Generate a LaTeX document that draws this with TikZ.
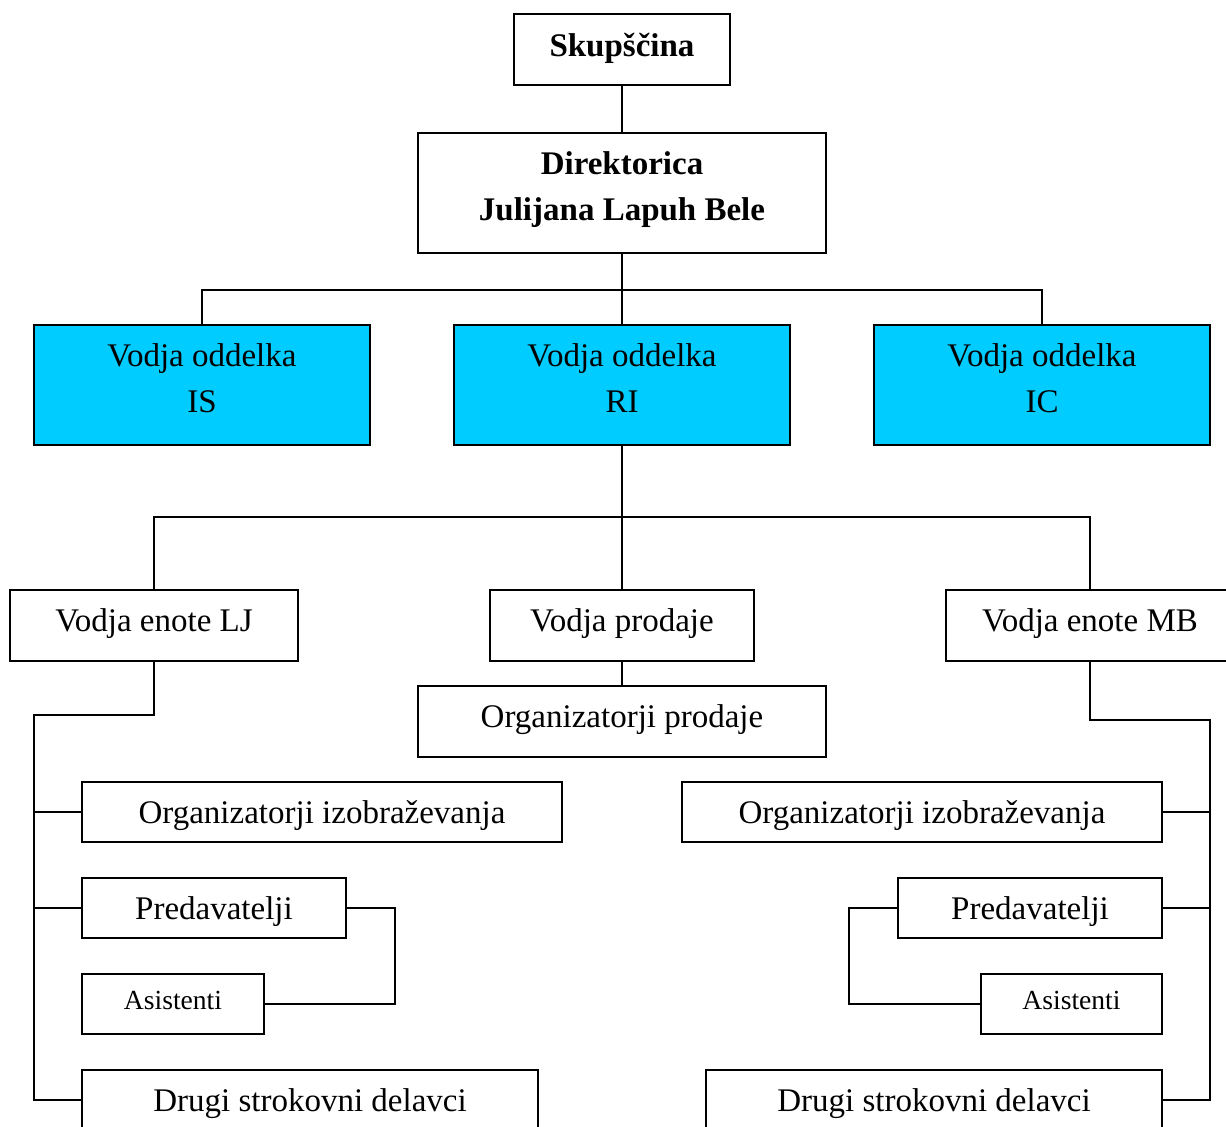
\documentclass[tikz,border=0pt]{standalone}
\usepackage{fontspec}
\setmainfont{Liberation Serif}
\definecolor{cyanbox}{HTML}{00CCFF}
\begin{document}
\begin{tikzpicture}[x=0.5pt,y=-0.5pt,
  box/.style={draw, line width=0.9pt, inner sep=0pt, align=center,
    font=\fontsize{16.5pt}{23pt}\selectfont},
  bl/.style={text height=#1pt, text depth=0pt},
  dept/.style={box, fill=cyanbox, minimum width=168pt, minimum height=60pt, text depth=7pt},
  small/.style={box, font=\fontsize{13.8pt}{16pt}\selectfont},
  conn/.style={line width=0.9pt}]
\useasboundingbox (0,0) rectangle (1226,1126);
\clip (0,0) rectangle (1226,1126);
% nodes
\node[box, bl=6.5, minimum width=108pt, minimum height=35.5pt, font=\fontsize{16.5pt}{23pt}\selectfont\bfseries] (sk) at (622,49.5) {Skupščina};
\node[box, minimum width=204pt, minimum height=60pt, text depth=7pt, font=\fontsize{16.5pt}{23pt}\selectfont\bfseries] (dir) at (622,193) {Direktorica\\Julijana Lapuh Bele};
\node[dept] (is) at (202,385) {Vodja oddelka\\IS};
\node[dept] (ri) at (622,385) {Vodja oddelka\\RI};
\node[dept] (ic) at (1042,385) {Vodja oddelka\\IC};
\node[box, bl=5.5, minimum width=144pt, minimum height=35.5pt] (lj) at (154,625.5) {Vodja enote LJ};
\node[box, bl=5.5, minimum width=132pt, minimum height=35.5pt] (vp) at (622,625.5) {Vodja prodaje};
\node[box, bl=5.5, minimum width=144pt, minimum height=35.5pt] (mb) at (1090,625.5) {Vodja enote MB};
\node[box, bl=5.5, minimum width=204pt, minimum height=35.5pt] (op) at (622,721.5) {Organizatorji prodaje};
% left unit
\node[box, bl=11, minimum width=240pt, minimum height=30pt] (oiL) at (322,812) {Organizatorji izobraževanja};
\node[box, bl=11, minimum width=132pt, minimum height=30pt] (prL) at (214,908) {Predavatelji};
\node[small, bl=5, minimum width=91pt, minimum height=30pt] (asL) at (173,1004) {Asistenti};
\node[box, bl=11.5, minimum width=228pt, minimum height=30pt] (drL) at (310,1100) {Drugi strokovni delavci};
% right unit
\node[box, bl=11, minimum width=240pt, minimum height=30pt] (oiR) at (922,812) {Organizatorji izobraževanja};
\node[box, bl=11, minimum width=132pt, minimum height=30pt] (prR) at (1030,908) {Predavatelji};
\node[small, bl=5, minimum width=90.5pt, minimum height=30pt] (asR) at (1071.5,1004) {Asistenti};
\node[box, bl=11.5, minimum width=228pt, minimum height=30pt] (drR) at (934,1100) {Drugi strokovni delavci};
% junctions
\coordinate (j1) at (622,290);
\coordinate (j2) at (622,517);
\coordinate (bL) at (34,715);
\coordinate (bR) at (1210,720);
% connectors
\draw[conn] (sk.south) -- (dir.north);
\draw[conn] (dir.south) -- (j1);
\draw[conn] (j1) -| (is.north);
\draw[conn] (j1) -| (ic.north);
\draw[conn] (j1) -- (ri.north);
\draw[conn] (ri.south) -- (j2);
\draw[conn] (j2) -| (lj.north);
\draw[conn] (j2) -| (mb.north);
\draw[conn] (j2) -- (vp.north);
\draw[conn] (vp.south) -- (op.north);
\draw[conn] (lj.south) |- (bL) -- (bL |- drL.west) -- (drL.west);
\draw[conn] (bL |- oiL.west) -- (oiL.west);
\draw[conn] (bL |- prL.west) -- (prL.west);
\draw[conn] (prL.east) -- ++(48,0) |- (asL.east);
\draw[conn] (mb.south) |- (bR) -- (bR |- drR.east) -- (drR.east);
\draw[conn] (bR |- oiR.east) -- (oiR.east);
\draw[conn] (bR |- prR.east) -- (prR.east);
\draw[conn] (prR.west) -- ++(-48,0) |- (asR.west);
\end{tikzpicture}
\end{document}
